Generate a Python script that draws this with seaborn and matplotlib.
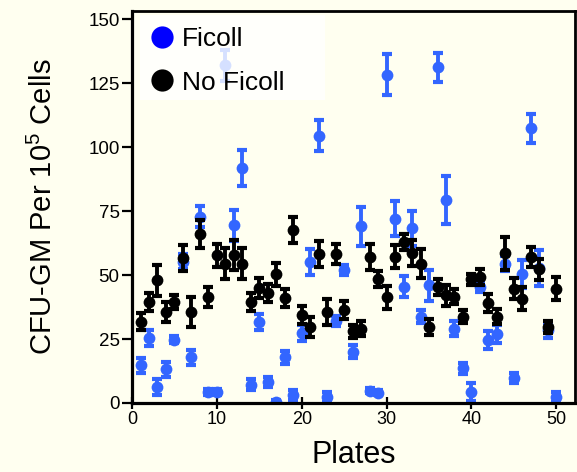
import numpy as np
import pandas as pd
import seaborn as sns
import matplotlib
matplotlib.use("Agg")
import matplotlib.pyplot as plt
from matplotlib.lines import Line2D
from matplotlib.patches import Rectangle

# %%
plates = list(range(1, 51))

ficoll = [14.7, 25.4, 6.3, 13.2, 24.8, 55.2, 17.8, 72.8, 4.3, 4.3,
          132.0, 69.5, 91.7, 7.2, 31.7, 8.2, 0.2, 17.8, 3.0, 27.4,
          55.2, 104.5, 2.3, 32.0, 51.9, 20.0, 69.0, 4.8, 4.0, 128.2,
          72.1, 45.5, 68.2, 33.7, 46.0, 131.2, 79.3, 29.1, 13.5, 4.3,
          45.4, 24.5, 27.1, 54.5, 9.9, 50.4, 107.3, 52.6, 28.4, 2.3]
ficoll_err = [3, 3, 3, 3, 1.5, 3, 3, 4, 1, 1,
              6, 6, 7, 2, 3, 2, 1, 2.5, 2, 3,
              5, 6, 2, 2, 2, 2.5, 7.5, 1, 1, 8,
              7, 4, 7, 2.5, 6, 5.7, 9.5, 3, 2, 3.5,
              2, 3.5, 3.5, 3, 2, 5.5, 5.6, 7, 3, 2]

no_ficoll = [31.7, 39.3, 48.0, 35.6, 39.5, 56.7, 35.6, 66.0, 41.5, 57.8,
             54.5, 57.8, 54.5, 39.5, 45.0, 43.0, 50.4, 41.0, 67.6, 34.3,
             29.7, 58.2, 35.6, 58.2, 36.5, 28.0, 29.1, 57.1, 48.5, 41.3,
             57.1, 62.9, 58.7, 54.5, 29.7, 45.4, 42.1, 41.5, 33.7, 48.3,
             49.3, 39.1, 33.7, 58.5, 44.7, 40.8, 57.1, 52.2, 29.7, 44.7]
no_ficoll_err = [3.3, 3.5, 6, 4, 2.7, 5, 6, 5.5, 4, 4.5,
                 6, 6, 6, 3.5, 4, 3.5, 4.5, 3.4, 5, 3.5,
                 4, 5, 5, 4, 3.5, 2.5, 3, 5, 3, 4.5,
                 4.5, 3, 5, 5.5, 3, 3, 4, 3, 2.5, 2,
                 3, 3.5, 3, 6.5, 4, 4.5, 4, 4, 2.5, 4.5]

groups = ["Ficoll", "No Ficoll"]
colors = {"Ficoll": "#3366ff", "No Ficoll": "black"}
legend_colors = {"Ficoll": "#0000ff", "No Ficoll": "black"}

df = pd.DataFrame({
    "plate": plates * 2,
    "cfu": ficoll + no_ficoll,
    "err": ficoll_err + no_ficoll_err,
    "group": ["Ficoll"] * 50 + ["No Ficoll"] * 50,
})

# %%
bg = "#fffff0"
sns.set_theme(style="ticks")
plt.rcParams["font.family"] = ["Liberation Sans", "DejaVu Sans"]
plt.rcParams["mathtext.default"] = "regular"
plt.rcParams["text.color"] = "black"
plt.rcParams["axes.labelcolor"] = "black"

fig = plt.figure(figsize=(5.77, 4.72), dpi=100, facecolor=bg)
ax = fig.add_axes([0.2288, 0.1462, 0.7677, 0.8305])
ax.set_facecolor(bg)

z = 2
for g in groups:
    sub = df[df["group"] == g]
    ax.errorbar(sub["plate"], sub["cfu"], yerr=sub["err"], fmt="none",
                ecolor=colors[g], elinewidth=2.8, capsize=3.6, capthick=3.0,
                zorder=z)
    sns.scatterplot(data=sub, x="plate", y="cfu", color=colors[g], s=72,
                    linewidth=0, ax=ax, zorder=z + 1)
    z += 2

ax.set_xlim(0, 52.2)
ax.set_ylim(0, 153.2)
ax.set_xticks([0, 10, 20, 30, 40, 50])
ax.set_yticks([0, 25, 50, 75, 100, 125, 150])
ax.tick_params(axis="y", direction="out", length=7, width=1.6, pad=2,
               labelsize=13.5, colors="black")
ax.tick_params(axis="x", direction="inout", length=9, width=1.6, pad=1,
               labelsize=13, colors="black")

for side in ["left", "bottom"]:
    ax.spines[side].set_linewidth(2.3)
for side in ["top", "right"]:
    ax.spines[side].set_linewidth(2.0)
for sp in ax.spines.values():
    sp.set_color("black")
    sp.set_zorder(10)

ax.set_xlabel("Plates", fontsize=22, labelpad=9)
ax.set_ylabel("CFU-GM Per 10$^5$ Cells", fontsize=21, labelpad=22)

# white legend panel drawn over the data
ax.add_patch(Rectangle((0.018, 0.773), 0.4176, 0.2168, transform=ax.transAxes,
                       facecolor="white", edgecolor="none", alpha=0.8,
                       zorder=8))
handles = [Line2D([], [], marker="o", linestyle="none", markersize=16,
                  markerfacecolor=legend_colors[g], markeredgewidth=0)
           for g in groups]
leg = ax.legend(handles, groups, loc="upper left", bbox_to_anchor=(0.018, 0.99),
                borderaxespad=0, frameon=False, fontsize=19, borderpad=0.45,
                handlelength=0.75, handletextpad=0.4, labelspacing=0.75,
                labelcolor="black")
leg.set_zorder(9)

fig.savefig("out.png", dpi=100, facecolor=bg)
